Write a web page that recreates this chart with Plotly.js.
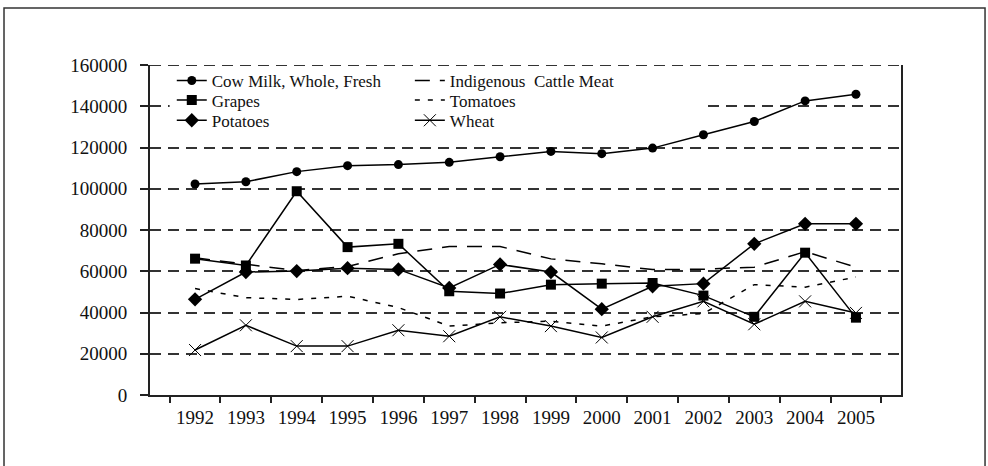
<!DOCTYPE html>
<html>
<head>
<meta charset="utf-8">
<script src="https://cdn.plot.ly/plotly-3.0.1.min.js"></script>
<style>html,body{margin:0;padding:0;background:#fff;}#chart{width:988px;height:466px;}</style>
</head>
<body>
<div id="chart"></div>
<script>
var years = ['1992','1993','1994','1995','1996','1997','1998','1999','2000','2001','2002','2003','2004','2005'];
var cowMilk = [102300,103400,108300,111200,111700,112800,115500,118100,117000,119700,126200,132600,142600,145800];
var cattleMeat = [66500,63400,60300,62300,68500,72000,72000,66000,63600,60800,61000,62000,69500,62000];
var grapes = [66100,62800,98800,71700,73300,50300,49200,53500,54000,54300,48200,37900,69000,37500];
var tomatoes = [51600,47200,46300,47900,42400,33400,35000,35800,33400,37900,39500,53500,52300,57200];
var potatoes = [46400,59600,60100,61500,60900,51900,63300,59600,41600,52700,54000,73300,83000,83000];
var wheat = [21800,33800,23700,23700,31400,28500,37900,33400,27900,37900,45400,34300,45400,39800];
var yTicks = [0,20000,40000,60000,80000,100000,120000,140000,160000];
var yMax = 160000;

var serif = 'Liberation Serif, Times New Roman, serif';
var lw = 1.5;
var traces = [
  {name:'Cow Milk, Whole, Fresh', x:years, y:cowMilk, mode:'lines+markers', legend:'legend',
   line:{color:'#000', width:lw}, marker:{symbol:'circle', size:9, color:'#000'}},
  {name:'Grapes', x:years, y:grapes, mode:'lines+markers', legend:'legend2',
   line:{color:'#000', width:lw}, marker:{symbol:'square', size:10, color:'#000'}},
  {name:'Potatoes', x:years, y:potatoes, mode:'lines+markers', legend:'legend3',
   line:{color:'#000', width:lw}, marker:{symbol:'diamond', size:11, color:'#000'}},
  {name:'Indigenous  Cattle Meat', x:years, y:cattleMeat, mode:'lines', legend:'legend4',
   line:{color:'#000', width:lw, dash:'15px,10px'}},
  {name:'Tomatoes', x:years, y:tomatoes, mode:'lines', legend:'legend5',
   line:{color:'#000', width:lw, dash:'5px,8px'}},
  {name:'Wheat', x:years, y:wheat, mode:'lines+markers', legend:'legend6',
   line:{color:'#000', width:lw}, marker:{symbol:'x-thin-open', size:12, color:'#000', line:{width:1, color:'#000'}}}
];

var col1 = 0.029, col2 = 0.346;
var rowY = [0.9515, 0.8924, 0.8312];
function leg(x, y) {
  return {x:x, y:y, xanchor:'left', yanchor:'middle', orientation:'v',
    bgcolor:'rgba(0,0,0,0)', borderwidth:0, font:{family:serif, size:17, color:'#111'}};
}
var layout = {
  width:988, height:466,
  margin:{l:150, r:87, t:65, b:71, pad:0},
  paper_bgcolor:'#fff', plot_bgcolor:'#fff',
  font:{family:serif, size:17, color:'#111'},
  showlegend:true,
  legend:leg(col1,rowY[0]),
  legend2:leg(col1,rowY[1]),
  legend3:leg(col1,rowY[2]),
  legend4:leg(col2,rowY[0]),
  legend5:leg(col2,rowY[1]),
  legend6:leg(col2,rowY[2]),
  xaxis:{type:'category', categoryorder:'array', categoryarray:years,
    tickson:'boundaries', ticks:'outside', ticklen:6, tickwidth:2, tickcolor:'#222',
    showline:true, linecolor:'#222', linewidth:2, showgrid:false, zeroline:false,
    ticklabelstandoff:4,
    tickfont:{family:serif, size:19, color:'#111'}},
  yaxis:{range:[0,yMax], tickvals:yTicks, tickformat:'d', ticks:'outside', ticklen:8,
    tickwidth:2, tickcolor:'#222', showline:true, mirror:true, linecolor:'#222', linewidth:2,
    showgrid:true, gridcolor:'#333', gridwidth:2, griddash:'11px,7px', zeroline:false,
    ticklabelstandoff:9,
    tickfont:{family:serif, size:19, color:'#111'}},
  shapes:[
    {type:'rect', xref:'paper', yref:'paper', x0:-0.1944, x1:1.1119, y0:-0.25, y1:1.1727,
     line:{color:'#333', width:1.5}, fillcolor:'rgba(0,0,0,0)', layer:'below'},
    {type:'rect', xref:'x', yref:'y', x0:-0.5, x1:10.05, y0:128000, y1:158500,
     line:{width:0}, fillcolor:'#fff', layer:'between'},
    {type:'line', xref:'paper', yref:'y', x0:0, x1:1, y0:yMax, y1:yMax,
     line:{color:'#333', width:2, dash:'11px,7px'}, layer:'below'}
  ]
};
Plotly.newPlot('chart', traces, layout, {displayModeBar:false, staticPlot:true});
</script>
</body>
</html>
